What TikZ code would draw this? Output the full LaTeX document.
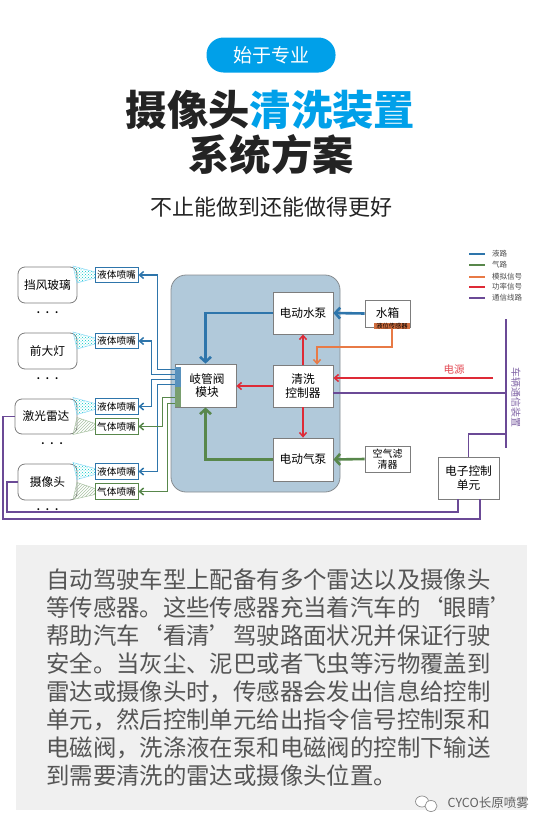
\documentclass[tikz,border=0pt]{standalone}
\usepackage{fontspec}
\setmainfont{Noto Sans CJK SC}
\usepackage{xcolor}
\usetikzlibrary{arrows.meta, positioning, patterns}
\definecolor{brandblue}{RGB}{0,160,233}
\definecolor{inkdark}{RGB}{35,35,35}
\definecolor{panelblue}{RGB}{177,201,218}
\definecolor{liquidblue}{RGB}{46,117,171}
\definecolor{gasgreen}{RGB}{88,135,75}
\definecolor{powerred}{RGB}{222,42,54}
\definecolor{signalorange}{RGB}{232,122,70}
\definecolor{commpurple}{RGB}{107,74,150}
\definecolor{edgegray}{RGB}{125,125,125}
\definecolor{notegray}{RGB}{240,240,240}
\definecolor{notetext}{RGB}{85,85,85}
\newcommand{\fsz}[1]{\fontsize{#1}{#1}\selectfont}
\tikzset{
  box/.style={draw=edgegray, fill=white, line width=0.8pt, inner sep=0pt, align=center, font=\fsz{11.7}},
  sensorbox/.style={box, rounded corners=7pt, minimum width=59pt, minimum height=36pt},
  nozzle/.style={draw=#1, fill=white, line width=1pt, inner sep=0pt, minimum width=43pt, minimum height=15.5pt, font=\fsz{9.7}},
  dotsrow/.style={inner sep=0pt, font=\bfseries\fsz{9}},
  wet/.style={draw=cyan!45!white, line width=0.5pt, pattern=crosshatch dots, pattern color=teal!45!cyan},
  dry/.style={draw=gasgreen!50!white, line width=0.5pt, pattern=north east lines, pattern color=gasgreen!50!white},
  thinflow/.style={color=#1, line width=1.5pt, -{Straight Barb[length=4pt,width=7pt]}},
  fatflow/.style={color=#1, line width=2.6pt, -{Straight Barb[length=5pt,width=11pt]}},
  commline/.style={commpurple, line width=1.1pt},
  legtext/.style={inner sep=0pt, text=black!70, font=\fsz{7.5}}
}
\begin{document}
\begin{tikzpicture}[x=1pt, y=-1pt]
  \useasboundingbox (0,0) rectangle (546,828);

  \node[fill=brandblue, rounded corners=17pt, minimum width=129pt, minimum height=35pt, inner sep=0pt, text=white, font=\fsz{19}] (badge) at (271,55) {始于专业};
  \node[inner sep=0pt, text=inkdark, font=\bfseries\fsz{41.3}] (titleA) at (270.5,110) {摄像头\textcolor{brandblue}{清洗装置}};
  \node[inner sep=0pt, text=inkdark, font=\bfseries\fsz{41.3}] (titleB) at (271,155) {系统方案};
  \node[inner sep=0pt, text=inkdark, font=\fsz{22}] (subtitle) at (271,207) {不止能做到还能做得更好};

  \fill[panelblue, draw=edgegray!80!panelblue, line width=0.8pt, rounded corners=15pt] (171,275) rectangle (340,492);

  \foreach \n/\x/\y/\t in {glass/47.5/285/挡风玻璃, lamp/47.5/351/前大灯, cam/47.5/482/摄像头} {
    \node[sensorbox] (\n) at (\x,\y) {\t};
  }
  \node[sensorbox, minimum width=62pt, minimum height=35pt] (lidar) at (46,416.5) {激光雷达};
  \node[dotsrow, below=8pt of glass] (dotsglass) {.\hspace{6pt}.\hspace{6pt}.};
  \node[dotsrow, below=8pt of lamp] (dotslamp) {.\hspace{6pt}.\hspace{6pt}.};
  \node[dotsrow, below=8pt of cam] (dotscam) {.\hspace{6pt}.\hspace{6pt}.};
  \node[dotsrow, below=8pt of lidar, xshift=6pt] (dotslidar) {.\hspace{6pt}.\hspace{6pt}.};

  \foreach \n/\y in {nozA/275, nozB/341, nozC/406.5, nozE/471.5} {
    \draw[wet] (95,\y-3) -- ++(-22,-6) -- ++(4,17) -- (95,\y+3) -- cycle;
    \node[nozzle=liquidblue] (\n) at (116.5,\y) {液体喷嘴};
  }
  \foreach \n/\y in {nozD/426.5, nozF/491.5} {
    \draw[dry] (95,\y-3) -- ++(-18,-6) -- ++(-4,17) -- (95,\y+3) -- cycle;
    \node[nozzle=gasgreen] (\n) at (116.5,\y) {气体喷嘴};
  }

  \node[box, minimum width=61pt, minimum height=43pt] (hub) at (205.5,385.5) {\hspace{3pt}岐管阀\\[2pt]\hspace{3pt}模块};
  \foreach \i/\y/\h/\col in {1/369.5/5/liquidblue, 2/374.5/5/liquidblue, 3/379.5/5/liquidblue, 4/384.5/5/liquidblue, 5/390/6/gasgreen, 6/397.5/7/gasgreen, 7/403.5/5/gasgreen} {
    \node[draw=\col!80!white, fill=\col!80!white, line width=0.3pt, inner sep=0pt, minimum width=5pt, minimum height=\h pt] (port\i) at (177.5,\y) {};
  }

  \node[box, minimum width=60pt, minimum height=42pt] (wpump) at (303,313) {电动水泵};
  \node[box, minimum width=60pt, minimum height=42pt] (ctrl) at (303,386) {清洗\\[2pt]控制器};
  \node[box, minimum width=60pt, minimum height=43pt] (apump) at (303,459.5) {电动气泵};
  \node[box, minimum width=45pt, minimum height=27pt] (tank) at (387.5,313.5) {水箱};
  \node[fill=signalorange!90!black, inner sep=0pt, minimum width=36pt, minimum height=6pt, font=\fsz{6.3}] (level) at (392,326) {液位传感器};
  \node[box, minimum width=45pt, minimum height=26pt, font=\fsz{10}] (filter) at (387.5,459) {空气滤\\[1pt]清器};
  \node[box, minimum width=61pt, minimum height=42pt] (ecu) at (468.5,478) {电子控制\\[2pt]单元};

  \foreach \p/\n/\dx/\col in {1/nozA/19/liquidblue, 2/nozB/13/liquidblue, 3/nozC/13/liquidblue, 4/nozE/19/liquidblue, 6/nozD/24/gasgreen, 7/nozF/29/gasgreen} {
    \draw[thinflow=\col] (port\p.west) -| ([xshift=\dx]\n.east) -- (\n.east);
  }

  \draw[fatflow=liquidblue] (tank.west) -- (wpump.east);
  \draw[fatflow=liquidblue] (wpump.west) -| (hub.north);
  \draw[fatflow=gasgreen] (filter.west) -- (apump.east);
  \draw[fatflow=gasgreen] (apump.west) -| (hub.south);

  \draw[thinflow=powerred] (ctrl.west) -- (ctrl.west -| hub.east);
  \draw[thinflow=powerred] (ctrl.north) -- (wpump.south);
  \draw[thinflow=powerred] (ctrl.south) -- (apump.north);

  \coordinate (orangebend) at (317,347);
  \draw[thinflow=signalorange] (level.south) |- (orangebend) -- (orangebend |- ctrl.north);

  \coordinate (mains) at (493,378);
  \draw[thinflow=powerred] (mains) -- (mains -| ctrl.east);
  \node[inner sep=0pt, text=powerred!85!white, font=\fsz{10.5}] (mainslabel) at (454,370) {电源};

  \coordinate (busTop) at (506,319);
  \coordinate (busBottom) at (506,448);
  \coordinate (busJoin) at (506,434);
  \draw[commpurple, line width=2.4pt] (busTop) -- (busBottom);
  \node[rotate=-90, inner sep=0pt, text=commpurple!85!white, font=\fsz{10}] (buslabel) at (516,397) {车辆通信装置};
  \draw[commline] ([yshift=-7]ctrl.east) -- ([yshift=-7]ctrl.east -| busTop);
  \draw[commline] (ecu.north) |- (busJoin);

  \coordinate (railA) at (7,512);
  \coordinate (railB) at (3,519);
  \draw[commline] ([xshift=-10.5]ecu.south) |- (railA) |- (cam.west);
  \draw[commline] ([xshift=11.5]ecu.south) |- (railB) |- (lidar.west);

  \foreach \n/\col/\y/\t in {A/liquidblue/254/液路, B/gasgreen/265/气路, C/signalorange/277/模拟信号, D/powerred/287/功率信号, E/commpurple/298/通信线路} {
    \coordinate (leg\n) at (469,\y);
    \coordinate (legend\n) at (485,\y);
    \draw[color=\col, line width=1.5pt] (leg\n) -- (legend\n);
    \node[legtext, right=7pt of legend\n] (legtext\n) {\t};
  }

  \fill[notegray] (15.5,545) rectangle (527,810);
  \node[anchor=north west, inner sep=0pt, align=left, text=notetext, font=\fontsize{23.4}{28}\selectfont] (note) at (46,569) {自动驾驶车型上配备有多个雷达以及摄像头\\
等传感器。这些传感器充当着汽车的‘眼睛’\\
帮助汽车‘看清’驾驶路面状况并保证行驶\\
安全。当灰尘、泥巴或者飞虫等污物覆盖到\\
雷达或摄像头时，传感器会发出信息给控制\\
单元，然后控制单元给出指令信号控制泵和\\
电磁阀，洗涤液在泵和电磁阀的控制下输送\\
到需要清洗的雷达或摄像头位置。};

  \draw[black!45, fill=white, line width=0.7pt] (422,801.5) ellipse (6.5pt and 5.5pt);
  \draw[black!45, fill=white, line width=0.7pt] (431,806) ellipse (6pt and 5.5pt);
  \node[inner sep=0pt, anchor=east, text=black!62, font=\fsz{12.5}] (mark) at (529,803) {CYCO长原喷雾};
\end{tikzpicture}
\end{document}
